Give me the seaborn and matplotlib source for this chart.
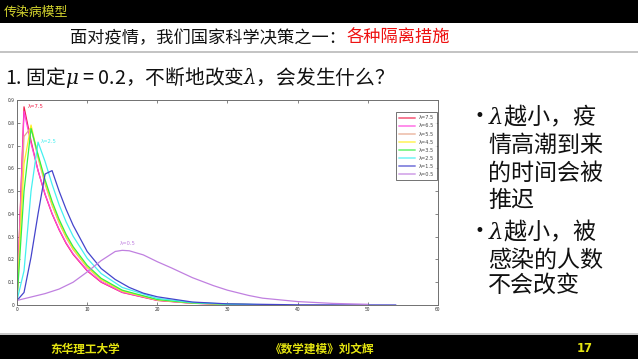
import matplotlib
matplotlib.use("Agg")
import matplotlib.pyplot as plt
from matplotlib.patches import Rectangle
import numpy as np
import pandas as pd
import seaborn as sns

# ---------------- data ----------------
lam_labels = ["λ=7.5", "λ=6.5", "λ=5.5", "λ=4.5", "λ=3.5", "λ=2.5", "λ=1.5", "λ=0.5"]
colors = ["#f0204a", "#ff44dd", "#e6a58a", "#ffee22", "#33ee44", "#44f0f0", "#4444cc", "#c080e0"]

t_75 = [0, 1, 2, 3, 4, 5, 6, 7, 8, 10, 12, 15, 20, 25, 30, 35]
i_75 = [0.02, 0.87, 0.72, 0.59, 0.485, 0.40, 0.33, 0.27, 0.222, 0.15, 0.10, 0.055, 0.02, 0.0075, 0.003, 0.001]
t_65 = [0, 1, 2, 3, 4, 5, 6, 7, 8, 10, 12, 15, 20, 25, 30, 35]
i_65 = [0.02, 0.85, 0.71, 0.59, 0.487, 0.402, 0.332, 0.273, 0.225, 0.152, 0.102, 0.056, 0.021, 0.008, 0.003, 0.001]
t_55 = [0, 1, 2, 3, 4, 5, 6, 7, 8, 10, 12, 15, 20, 25, 30, 35]
i_55 = [0.02, 0.74, 0.78, 0.645, 0.53, 0.437, 0.36, 0.296, 0.243, 0.164, 0.11, 0.06, 0.022, 0.008, 0.003, 0.001]
t_45 = [0, 1, 2, 3, 4, 5, 6, 7, 8, 10, 12, 15, 20, 25, 30, 35]
i_45 = [0.02, 0.62, 0.79, 0.655, 0.54, 0.445, 0.367, 0.302, 0.248, 0.168, 0.113, 0.062, 0.023, 0.009, 0.003, 0.001]
t_35 = [0, 1, 2, 3, 4, 5, 6, 7, 8, 10, 12, 15, 20, 25, 30, 35]
i_35 = [0.02, 0.50, 0.775, 0.66, 0.55, 0.455, 0.376, 0.31, 0.256, 0.174, 0.117, 0.065, 0.024, 0.009, 0.0035, 0.0012]
t_25 = [0, 1, 2, 3, 4, 5, 6, 7, 8, 10, 12, 15, 20, 25, 30, 35]
i_25 = [0.02, 0.15, 0.50, 0.715, 0.63, 0.53, 0.44, 0.365, 0.302, 0.205, 0.138, 0.077, 0.029, 0.011, 0.004, 0.0015]
t_15 = [0, 1, 2, 3, 4, 5, 6, 7, 8, 10, 12, 14, 16, 18, 20, 25, 30, 40, 54]
i_15 = [0.02, 0.055, 0.21, 0.40, 0.575, 0.59, 0.50, 0.42, 0.35, 0.235, 0.16, 0.112, 0.077, 0.052, 0.036, 0.013, 0.005, 0.0008, 0.0001]
t_05 = [0, 2, 4, 6, 8, 10, 12, 14, 15, 16, 18, 20, 22, 25, 28, 30, 33, 35, 40, 45, 50]
i_05 = [0.02, 0.035, 0.05, 0.07, 0.10, 0.145, 0.195, 0.235, 0.24, 0.238, 0.22, 0.19, 0.163, 0.12, 0.085, 0.065, 0.042, 0.03, 0.015, 0.007, 0.003]

series_t = [t_75, t_65, t_55, t_45, t_35, t_25, t_15, t_05]
series_i = [i_75, i_65, i_55, i_45, i_35, i_25, i_15, i_05]

x_ticks = [0, 10, 20, 30, 40, 50, 60]
y_ticks = [0, 0.1, 0.2, 0.3, 0.4, 0.5, 0.6, 0.7, 0.8, 0.9]

frames = []
for lab, tt, ii in zip(lam_labels, series_t, series_i):
    frames.append(pd.DataFrame({"t": tt, "i": ii, "lam": lab}))
df = pd.concat(frames, ignore_index=True)

# ---------------- figure ----------------
sns.set_style("ticks")
plt.rcParams["font.family"] = ["Noto Sans CJK SC", "DejaVu Sans"]
plt.rcParams["mathtext.fontset"] = "dejavuserif"

W, H = 638, 359
fig = plt.figure(figsize=(W / 100, H / 100), dpi=100)
fig.patch.set_facecolor("white")


def fx(x):
    return x / W


def fy(y):
    return 1 - y / H


# top bar
fig.patches.append(Rectangle((0, fy(23)), 1, 23 / H, transform=fig.transFigure,
                             facecolor="black", edgecolor="none", zorder=0))
fig.text(fx(4), fy(12.5), "传染病模型", color="#d2d22e", fontsize=9.3,
         ha="left", va="center")

# title
fig.text(fx(70), fy(38), "面对疫情，我们国家科学决策之一：", color="#111111",
         fontsize=12.4, ha="left", va="center")
fig.text(fx(70 + 16 * 17.3), fy(38), "各种隔离措施", color="#ee1111",
         fontsize=12.4, ha="left", va="center")
fig.patches.append(Rectangle((0, fy(53)), 1, 2 / H, transform=fig.transFigure,
                             facecolor="#c4c4c4", edgecolor="none", zorder=0))

# subtitle
fig.text(fx(5), fy(77), r"1. 固定$\mu$ = 0.2，不断地改变$\lambda$，会发生什么？",
         color="#111111", fontsize=14.2, ha="left", va="center")

# bullets on the right
lines = [(116, r"$\lambda$越小，疫", True), (145, "情高潮到来", False),
         (173, "的时间会被", False), (200, "推迟", False),
         (231.5, r"$\lambda$越小，被", True), (260, "感染的人数", False),
         (285, "不会改变", False)]
for yy, txt, bul in lines:
    if bul:
        fig.text(fx(484), fy(yy), "•", color="#111111", fontsize=12,
                 ha="right", va="center", family="DejaVu Sans")
    fig.text(fx(488), fy(yy), txt, color="#111111", fontsize=16.6,
             ha="left", va="center")

# bottom bar
fig.patches.append(Rectangle((0, fy(334.5)), 1, 1.5 / H, transform=fig.transFigure,
                             facecolor="#c8c8c8", edgecolor="none", zorder=0))
fig.patches.append(Rectangle((0, 0), 1, (H - 335) / H, transform=fig.transFigure,
                             facecolor="black", edgecolor="none", zorder=0))
fig.text(fx(50), fy(349), "东华理工大学", color="#e4e410", fontsize=8.4,
         fontweight="bold", ha="left", va="center")
fig.text(fx(270), fy(349), "《数学建模》刘文辉", color="#e4e410", fontsize=8.4,
         fontweight="bold", ha="left", va="center")
fig.text(fx(577), fy(349), "17", color="#e4e410", fontsize=8.4,
         fontweight="bold", ha="left", va="center", family="DejaVu Sans")

# chart axes
ax_l, ax_r, ax_t, ax_b = 17, 438, 100, 305
ax = fig.add_axes([fx(ax_l), fy(ax_b), (ax_r - ax_l) / W, (ax_b - ax_t) / H])
pal = dict(zip(lam_labels, colors))
sns.lineplot(data=df, x="t", y="i", hue="lam", hue_order=lam_labels,
             palette=pal, sort=False, estimator=None, linewidth=0.9, ax=ax)
ax.set_xlim(0, 60)
ax.set_ylim(0, 0.9)
ax.set_xticks(x_ticks)
ax.set_yticks(y_ticks)
ax.set_xticklabels([str(v) for v in x_ticks])
ax.set_yticklabels(["0"] + [f"{v:.1f}" for v in y_ticks[1:]])
ax.set_xlabel("")
ax.set_ylabel("")
for s in ax.spines.values():
    s.set_visible(True)
    s.set_color("#707070")
    s.set_linewidth(0.7)
ax.tick_params(direction="in", length=2.5, width=0.6, colors="#707070",
               labelsize=3.6, labelcolor="#333333", top=True, right=True, pad=1.5)

ax.text(1.55, 0.87, "λ=7.5", color=colors[0], fontsize=3.8, va="center",
        family="DejaVu Sans")
ax.text(3.4, 0.717, "λ=2.5", color=colors[5], fontsize=3.8, va="center",
        family="DejaVu Sans")
ax.text(14.6, 0.27, "λ=0.5", color=colors[7], fontsize=3.8, va="center",
        family="DejaVu Sans")

sns.move_legend(ax, "upper right", bbox_to_anchor=(0.997, 0.94), title=None,
                fontsize=3.6, frameon=True, fancybox=False, edgecolor="#333333",
                handlelength=3.2, handletextpad=0.6, labelspacing=0.62,
                borderpad=0.6, borderaxespad=0)
leg = ax.get_legend()
leg.get_frame().set_linewidth(0.6)
for h in leg.get_lines():
    h.set_linewidth(1.4)
    h.set_alpha(0.6)
for t in leg.get_texts():
    t.set_family("DejaVu Sans")
    t.set_color("#444444")

fig.savefig("out.png", dpi=100)
